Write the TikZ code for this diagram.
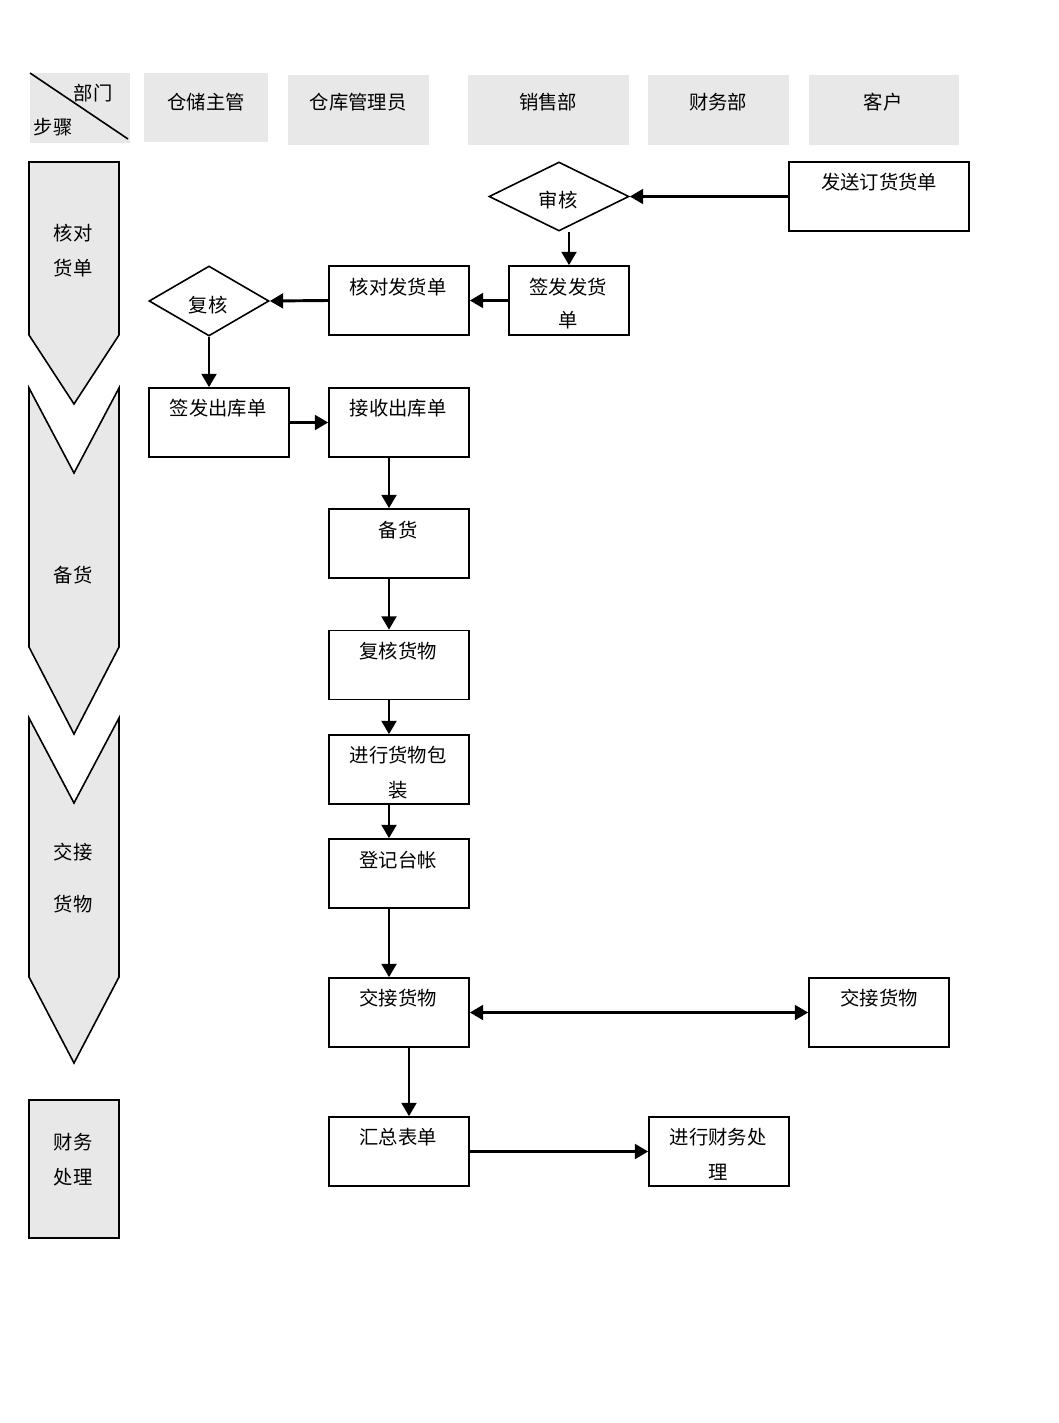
\documentclass[tikz,border=0pt]{standalone}
\usepackage{fontspec}
\newfontfamily\cjk{Noto Sans CJK SC}
\usetikzlibrary{shapes.geometric,arrows.meta}
\definecolor{hdr}{HTML}{E8E8E8}
\begin{document}
\begin{tikzpicture}[x=0.75pt,y=-0.75pt,
  every node/.style={font=\cjk\fontsize{14.5}{26}\selectfont, inner sep=0pt},
  txt/.style={align=center},
  box/.style={draw, line width=1.2pt, minimum width=105pt, minimum height=51.75pt},
  dia/.style={draw, diamond, line width=1.2pt, minimum width=105pt, minimum height=51.75pt},
  chev/.style={draw, fill=hdr, line width=1.2pt, line join=miter},
  arr/.style={line width=2.2pt, -{Triangle[length=10pt,width=11pt]}},
  darr/.style={line width=2.2pt, {Triangle[length=10pt,width=11pt]}-{Triangle[length=10pt,width=11pt]}}]
% canvas
\path[fill=white] (0,0) rectangle (1058,1423);
% header
\fill[hdr] (30,73) rectangle (130,143);
\draw[line width=1.2pt] (30,73) -- (128,139);
\node[txt] (hbm) at (93,93) {部门};
\node[txt] (hbz) at (53,127) {步骤};
\fill[hdr] (144,73) rectangle (268,142);
\node[txt] (h1) at (206,102) {仓储主管};
\fill[hdr] (288,75) rectangle (429,145);
\node[txt] (h2) at (358,102) {仓库管理员};
\fill[hdr] (468,75) rectangle (629,145);
\node[txt] (h3) at (548,102) {销售部};
\fill[hdr] (648,75) rectangle (789,145);
\node[txt] (h4) at (718,102) {财务部};
\fill[hdr] (809,75) rectangle (959,145);
\node[txt] (h5) at (883,102) {客户};
% step chevrons
\draw[chev] (29,162) -- (119,162) -- (119,335) -- (74,404) -- (29,335) -- cycle;
\node[txt] (s1) at (73,250.5) {核对\\货单};
\draw[chev] (29,388) -- (74,473) -- (119,388) -- (119,647) -- (74,734) -- (29,647) -- cycle;
\node[txt] (s2) at (73,575) {备货};
\draw[chev] (29,718) -- (74,803) -- (119,718) -- (119,977) -- (74,1063) -- (29,977) -- cycle;
\node[txt] (s3) at (73,878) {交接\\[13pt]货物};
\draw[chev] (29,1100) rectangle (119,1238);
\node[txt] (s4) at (73,1159.5) {财务\\处理};
% flow nodes
\node[box, minimum width=135pt] (fasong) at (879,196.5) {};
\node[txt] (fasongt) at (879,182) {发送订货货单};
\node[dia] (shenhe) at (559,196.5) {};
\node[txt] (shenhet) at (558,200) {审核};
\node[box, minimum width=90pt] (qianfa) at (569,300.5) {};
\node[txt] (qianfat) at (568,303.5) {签发发货\\[-1.5pt]单};
\node[box] (heduifa) at (399,300.5) {};
\node[txt] (heduifat) at (398,287) {核对发货单};
\node[dia, minimum width=90pt, minimum height=52.5pt] (fuhe) at (209,301) {};
\node[txt] (fuhet) at (208,305) {复核};
\node[box] (qianchu) at (219,422.5) {};
\node[txt] (qianchut) at (218,408) {签发出库单};
\node[box] (jieshou) at (399,422.5) {};
\node[txt] (jieshout) at (398,408) {接收出库单};
\node[box] (beihuo) at (399,543.5) {};
\node[txt] (beihuot) at (398,530) {备货};
\node[box] (fuhehw) at (399,665) {};
\node[txt] (fuhehwt) at (398,651) {复核货物};
\node[box] (baozhuang) at (399,769.5) {};
\node[txt] (baozhuangt) at (398,772.5) {进行货物包\\装};
\node[box] (dengji) at (399,873.5) {};
\node[txt] (dengjit) at (398,860) {登记台帐};
\node[box] (jiaojie) at (399,1012.5) {};
\node[txt] (jiaojiet) at (398,998) {交接货物};
\node[box] (jiaojiek) at (879,1012.5) {};
\node[txt] (jiaojiekt) at (879,998) {交接货物};
\node[box] (huizong) at (399,1151.5) {};
\node[txt] (huizongt) at (398,1137) {汇总表单};
\node[box] (caiwu) at (719,1151.5) {};
\node[txt] (caiwut) at (718,1154.5) {进行财务处\\理};
% connectors
\draw[arr] (fasong.west) -- (shenhe.east);
\draw[arr] (shenhe.south -| qianfa.north) -- (qianfa.north);
\draw[arr] (qianfa.west) -- (heduifa.east);
\draw[arr] (heduifa.west) -- (fuhe.east);
\draw[arr] (fuhe.south) -- (fuhe.south |- qianchu.north);
\draw[arr] (qianchu.east) -- (jieshou.west);
\draw[arr] ([xshift=-7.5pt]jieshou.south) -- ([xshift=-7.5pt]beihuo.north);
\draw[arr] ([xshift=-7.5pt]beihuo.south) -- ([xshift=-7.5pt]fuhehw.north);
\draw[arr] ([xshift=-7.5pt]fuhehw.south) -- ([xshift=-7.5pt]baozhuang.north);
\draw[arr] ([xshift=-7.5pt]baozhuang.south) -- ([xshift=-7.5pt]dengji.north);
\draw[arr] ([xshift=-7.5pt]dengji.south) -- ([xshift=-7.5pt]jiaojie.north);
\draw[darr] (jiaojie.east) -- (jiaojiek.west);
\draw[arr] ([xshift=7.5pt]jiaojie.south) -- ([xshift=7.5pt]huizong.north);
\draw[arr] (huizong.east) -- (caiwu.west);
\end{tikzpicture}
\end{document}
